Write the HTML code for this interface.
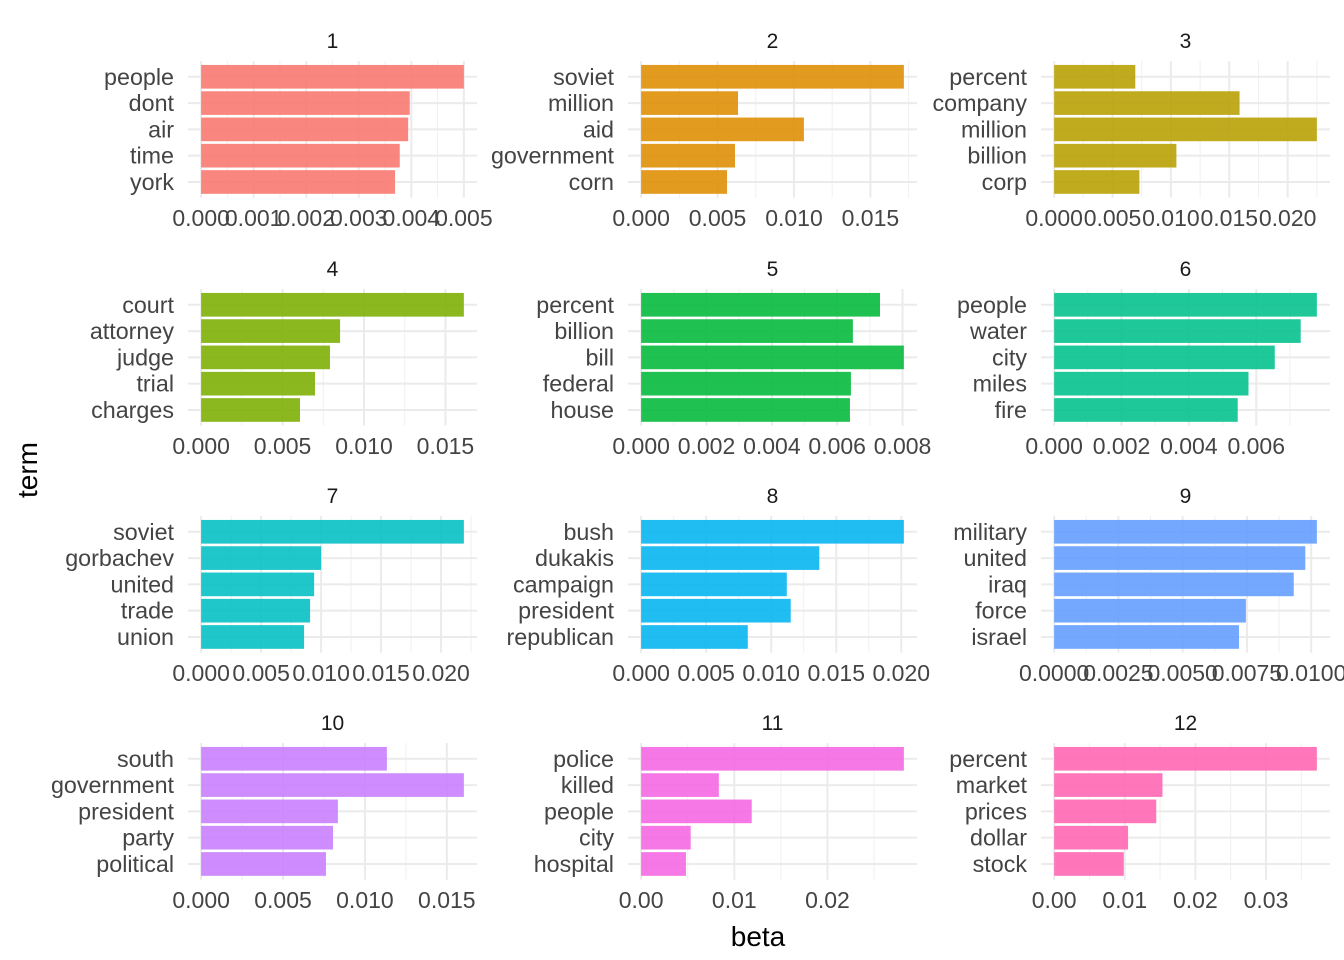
<!DOCTYPE html>
<html><head><meta charset="utf-8"><style>
html,body{margin:0;padding:0;background:#fff;}
svg{display:block;font-family:"Liberation Sans",Arial,sans-serif;}
</style></head><body>
<svg id="chart" width="1344" height="960" viewBox="0 0 1344 960">
<rect width="1344" height="960" fill="#fff"/>
<text x="758" y="946" font-size="28" text-anchor="middle" fill="#000">beta</text>
<text transform="translate(37,470) rotate(-90)" font-size="28" text-anchor="middle" fill="#000">term</text>
</svg>
<script>
const topics = ["1","2","3","4","5","6","7","8","9","10","11","12"];
const terms1 = ["people","dont","air","time","york"];
const beta1 = [0.0050,0.00397,0.00394,0.00378,0.00369];
const terms2 = ["soviet","million","aid","government","corn"];
const beta2 = [0.01719,0.00634,0.01065,0.00614,0.00562];
const terms3 = ["percent","company","million","billion","corp"];
const beta3 = [0.00695,0.01588,0.0225,0.01047,0.0073];
const terms4 = ["court","attorney","judge","trial","charges"];
const beta4 = [0.01613,0.00853,0.00791,0.00699,0.00607];
const terms5 = ["percent","billion","bill","federal","house"];
const beta5 = [0.00731,0.00648,0.00804,0.00642,0.00639];
const terms6 = ["people","water","city","miles","fire"];
const beta6 = [0.0078,0.00732,0.00655,0.00577,0.00545];
const terms7 = ["soviet","gorbachev","united","trade","union"];
const beta7 = [0.0219,0.0100,0.00942,0.00908,0.00858];
const terms8 = ["bush","dukakis","campaign","president","republican"];
const beta8 = [0.0202,0.0137,0.0112,0.0115,0.0082];
const terms9 = ["military","united","iraq","force","israel"];
const beta9 = [0.01022,0.00977,0.00932,0.00746,0.00719];
const terms10 = ["south","government","president","party","political"];
const beta10 = [0.01134,0.01604,0.00835,0.00805,0.00762];
const terms11 = ["police","killed","people","city","hospital"];
const beta11 = [0.0282,0.00834,0.01187,0.00532,0.00481];
const terms12 = ["percent","market","prices","dollar","stock"];
const beta12 = [0.0372,0.01534,0.01446,0.01047,0.00986];
const ticks1 = ["0.000","0.001","0.002","0.003","0.004","0.005"];
const ticks2 = ["0.000","0.005","0.010","0.015"];
const ticks3 = ["0.000","0.005","0.010","0.015","0.020"];
const ticks4 = ["0.000","0.005","0.010","0.015"];
const ticks5 = ["0.000","0.002","0.004","0.006","0.008"];
const ticks6 = ["0.000","0.002","0.004","0.006"];
const ticks7 = ["0.000","0.005","0.010","0.015","0.020"];
const ticks8 = ["0.000","0.005","0.010","0.015","0.020"];
const ticks9 = ["0.0000","0.0025","0.0050","0.0075","0.0100"];
const ticks10 = ["0.000","0.005","0.010","0.015"];
const ticks11 = ["0.00","0.01","0.02"];
const ticks12 = ["0.00","0.01","0.02","0.03"];
const colors = ["#F8766D","#DE8C00","#B79F00","#7CAE00","#00BA38","#00C08B","#00BFC4","#00B4F0","#619CFF","#C77CFF","#F564E3","#FF64B0"];

const allTerms=[terms1,terms2,terms3,terms4,terms5,terms6,terms7,terms8,terms9,terms10,terms11,terms12];
const allBeta=[beta1,beta2,beta3,beta4,beta5,beta6,beta7,beta8,beta9,beta10,beta11,beta12];
const allTicks=[ticks1,ticks2,ticks3,ticks4,ticks5,ticks6,ticks7,ticks8,ticks9,ticks10,ticks11,ticks12];
const svg=document.getElementById('chart');
const NS='http://www.w3.org/2000/svg';
function mk(tag,attrs,parent){const e=document.createElementNS(NS,tag);for(const k in attrs)e.setAttribute(k,attrs[k]);(parent||svg).appendChild(e);return e;}
const colL=[188,628,1041], colW=289;
const rowT=[61,289,516,743], step=26.3;
topics.forEach((t,i)=>{
  const c=i%3,r=Math.floor(i/3);
  const L=colL[c],W=colW,T=rowT[r],H=step*5.2,B=T+H;
  const vals=allBeta[i],terms=allTerms[i],ticks=allTicks[i].map(Number);
  const mx=Math.max(...vals);
  const x=v=>L+(v+0.05*mx)/(1.1*mx)*W;
  const y=k=>T+step*(0.6+k);
  const g=mk('g',{});
  
  
  const st=ticks[1]-ticks[0];
  const lo=-0.05*mx,hi=1.05*mx;
  for(let m=ticks[0]-st/2;m<=hi+1e-12;m+=st){ if(m<lo) continue;
    const ln=mk('line',{x1:x(m),x2:x(m),y1:T,y2:B,stroke:'#f0f0f0','stroke-width':1},g);
    
    
  }
  ticks.forEach(v=>{const ln=mk('line',{x1:x(v),x2:x(v),y1:T,y2:B,stroke:'#ebebeb','stroke-width':2},g);
    
    });
  terms.forEach((tm,k)=>{const ln=mk('line',{x1:L,x2:L+W,y1:y(k),y2:y(k),stroke:'#ebebeb','stroke-width':2},g);
    
    });
  vals.forEach((v,k)=>{
    const b=mk('rect',{x:x(0),y:y(k)-step*0.45,width:x(v)-x(0),height:step*0.9,fill:colors[i],'fill-opacity':0.88},g);
    
    
    const tx=mk('text',{x:L-14,y:y(k)+8,'font-size':23.3,'text-anchor':'end',fill:'#444'},g);
    tx.textContent=terms[k];
    
    
  });
  allTicks[i].forEach((lab,k)=>{
    const tx=mk('text',{x:x(ticks[k]),y:B+28,'font-size':23,'text-anchor':'middle',fill:'#444'},g);
    tx.textContent=lab;
    
    
  });
  const s=mk('text',{x:L+W/2,y:T-13,'font-size':21,'text-anchor':'middle',fill:'#1a1a1a'},g);
  s.textContent=t;
  
  
});
</script>
</body></html>
